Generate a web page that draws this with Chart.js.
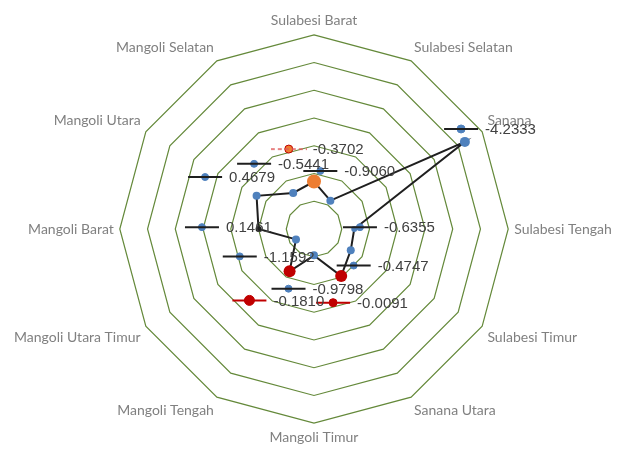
<!DOCTYPE html>
<html>
<head>
<meta charset="utf-8">
<script src="https://cdn.jsdelivr.net/npm/chart.js@4/dist/chart.umd.min.js"></script>
<style>
  body { margin: 0; background: #fff; }
  #wrap { position: relative; width: 630px; height: 456px; }
  #wrap canvas { position: absolute; left: 0; top: 0; }
</style>
</head>
<body>
<div id="wrap">
  <canvas id="radarChart" width="630" height="456"></canvas>
  <canvas id="calloutChart" width="630" height="456"></canvas>
</div>
<script>
// categories, clockwise from the top
const districts = [
  "Sulabesi Barat", "Sulabesi Selatan", "Sanana", "Sulabesi Tengah",
  "Sulabesi Timur", "Sanana Utara", "Mangoli Timur", "Mangoli Tengah",
  "Mangoli Utara Timur", "Mangoli Barat", "Mangoli Utara", "Mangoli Selatan"
];
// radial position of the trace, in ring units (7 rings)
const traceValues = [1.71, 1.18, 6.28, 1.45, 1.53, 1.96, 0.95, 1.76, 0.75, 2.0, 2.39, 1.5];

// floating value labels, position in ring units from the centre (x right, y up)
const calloutText = ["-0.3702", "-0.5441", "-0.9060", "-4.2333", "0.4679", "0.1461",
  "-1.1592", "-0.6355", "-0.4747", "-0.9798", "-0.1810", "-0.0091"];
const calloutX = [-0.97, -2.30, 0.24, 5.64, -4.18, -4.30, -2.85, 1.76, 1.52, -0.98, -2.48, 0.73];
const calloutY = [3.14, 2.56, 2.28, 3.93, 2.04, 0.07, -1.08, 0.07, -1.44, -2.35, -2.81, -2.90];

const RINGS = 7;
const BLUE = "#4f81bd", RED = "#c00000", ORANGE = "#ed7d31", INK = "#1f1f1f";

// per-segment / per-point styling of the trace
const segColors = [INK, INK, INK, INK, RED, INK, RED, INK, INK, INK, INK, RED];
const traceDotColors = [ORANGE, BLUE, BLUE, BLUE, BLUE, RED, BLUE, RED, BLUE, INK, BLUE, BLUE];
const traceDotSizes = [7, 4, 5, 3, 4, 6, 4, 6, 4, 3, 4, 4];

const radar = new Chart(document.getElementById("radarChart"), {
  type: "radar",
  data: {
    labels: districts,
    datasets: [{
      data: traceValues,
      borderColor: INK,
      borderWidth: 2,
      fill: false,
      tension: 0,
      segment: { borderColor: (c) => segColors[c.p0DataIndex] },
      pointRadius: traceDotSizes,
      pointBackgroundColor: traceDotColors,
      pointBorderColor: traceDotColors,
      pointBorderWidth: 0,
    }],
  },
  options: {
    responsive: false,
    animation: false,
    layout: { padding: { top: 12, bottom: 9, left: 0, right: 0 } },
    plugins: { legend: { display: false }, tooltip: { enabled: false } },
    scales: {
      r: {
        min: 0,
        max: RINGS,
        ticks: { stepSize: 1, display: false },
        grid: { color: "#64893a", lineWidth: 1.2 },
        angleLines: { display: false },
        pointLabels: {
          color: "#808080",
          font: { family: "Lato", size: 14 },
          padding: 6,
        },
      },
    },
  },
});

// overlay with the floating value labels, sharing the radar's centre and ring size
const r = radar.scales.r;
const unit = r.drawingArea / RINGS;
const W = 630, H = 456;

const dashMark = document.createElement("canvas");
dashMark.width = 36; dashMark.height = 4;
(function () {
  const c = dashMark.getContext("2d");
  c.strokeStyle = "#e05a5a";
  c.lineWidth = 1.5;
  c.setLineDash([4, 3]);
  c.beginPath(); c.moveTo(0, 2); c.lineTo(36, 2); c.stroke();
})();

const calloutPoints = calloutX.map((x, i) => ({ x: x, y: calloutY[i] }));
const barColors = [RED, INK, INK, INK, INK, INK, INK, INK, INK, INK, RED, RED];
const barStyles = calloutPoints.map((p, i) => (i === 0 ? dashMark : "line"));
const dotColors = [ORANGE, BLUE, BLUE, BLUE, BLUE, BLUE, BLUE, BLUE, BLUE, BLUE, RED, RED];
const dotSizes = [4, 3.5, 3.5, 4, 3.5, 3.5, 3.5, 3.5, 3.5, 3.5, 5, 4];

const calloutLabels = {
  id: "calloutLabels",
  afterDatasetsDraw(chart) {
    const meta = chart.getDatasetMeta(1);
    const ctx = chart.ctx;
    ctx.save();
    ctx.font = '15px "Liberation Sans"';
    ctx.fillStyle = "#404040";
    ctx.textBaseline = "middle";
    meta.data.forEach((pt, i) => {
      ctx.fillText(calloutText[i], pt.x + 24, pt.y + 1);
    });
    ctx.restore();
  },
};

new Chart(document.getElementById("calloutChart"), {
  type: "scatter",
  data: {
    datasets: [
      {
        data: calloutPoints,
        pointStyle: barStyles,
        pointRadius: 17,
        pointBorderColor: barColors,
        pointBorderWidth: 2,
        pointBackgroundColor: "rgba(0,0,0,0)",
      },
      {
        data: calloutPoints,
        pointStyle: "circle",
        pointRadius: dotSizes,
        pointBackgroundColor: dotColors,
        pointBorderColor: calloutPoints.map((p, i) => (i === 0 ? RED : dotColors[i])),
        pointBorderWidth: 1,
      },
    ],
  },
  options: {
    responsive: false,
    animation: false,
    layout: { padding: 0 },
    plugins: { legend: { display: false }, tooltip: { enabled: false } },
    scales: {
      x: { type: "linear", display: false, min: -r.xCenter / unit, max: (W - r.xCenter) / unit },
      y: { type: "linear", display: false, min: -(H - r.yCenter) / unit, max: r.yCenter / unit },
    },
  },
  plugins: [calloutLabels],
});
</script>
</body>
</html>
